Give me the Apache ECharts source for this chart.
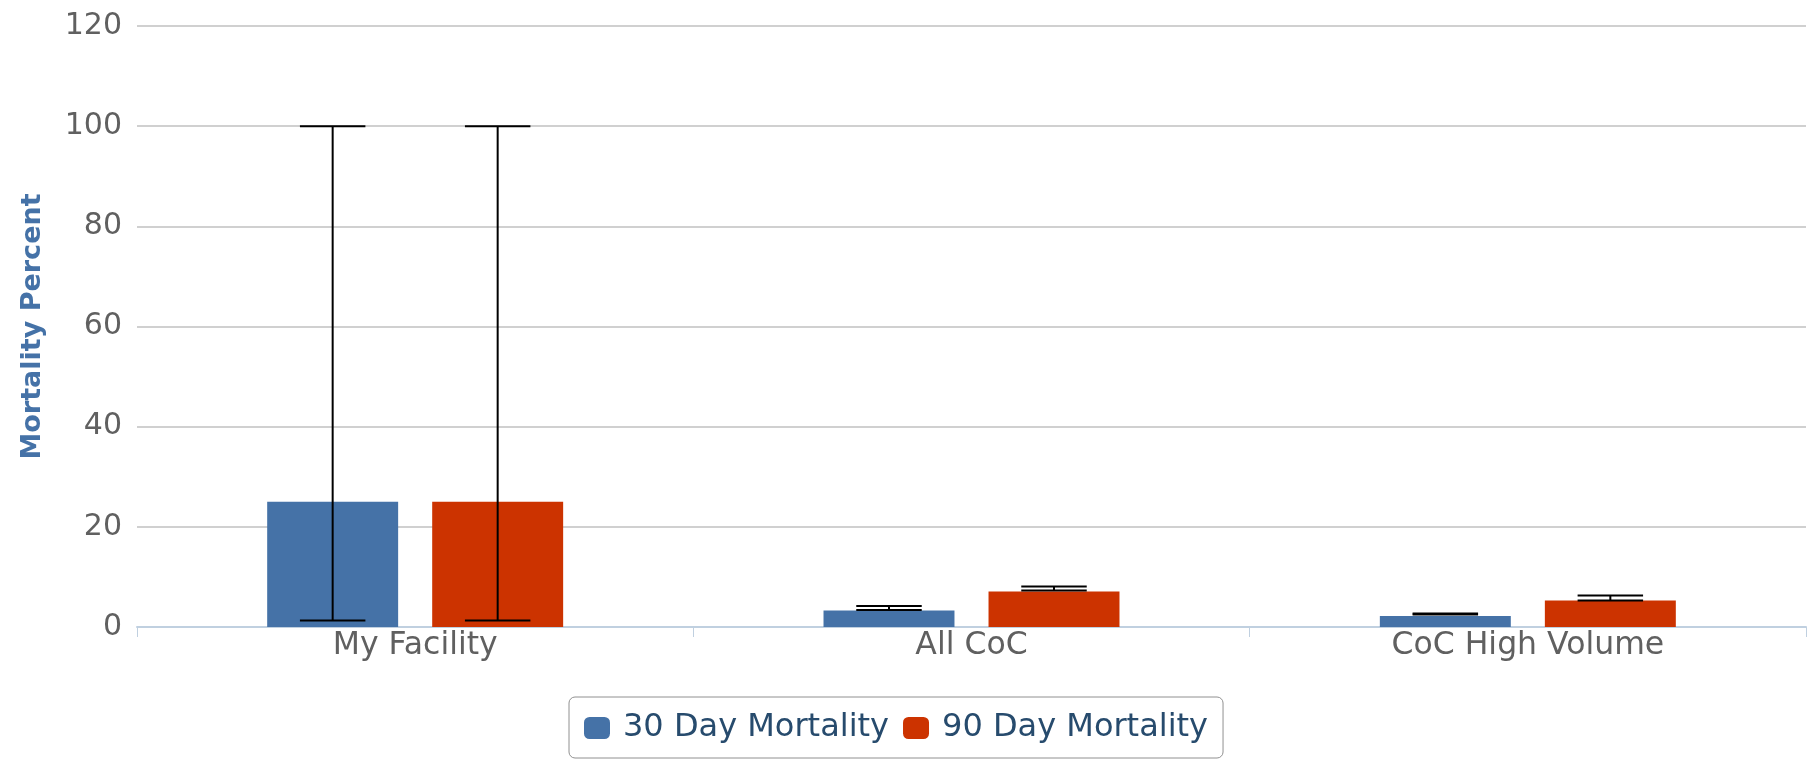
<!doctype html>
<html>
  <head>
    <meta charset="utf-8">
    <title>Mortality</title>
    <script src="https://cdn.jsdelivr.net/npm/echarts@6/dist/echarts.min.js"></script>
    <style>
      html, body { margin: 0; padding: 0; background: #fff; }
      #main { width: 1815px; height: 759px; }
    </style>
  </head>
  <body>
    <div id="main"></div>
  </body>
  <script>
   var categories = ['My Facility', 'All CoC', 'CoC High Volume'];
   var seriesNames = ['30 Day Mortality', '90 Day Mortality'];
   var mort30 = [25, 3.3, 2.2];
   var mort90 = [25, 7.1, 5.3];
   // error bar ranges (low, high)
   var mort30Low = [1.3, 3.4, 2.5];
   var mort30High = [100, 4.2, 2.7];
   var mort90Low = [1.3, 7.3, 5.3];
   var mort90High = [100, 8.1, 6.3];
   var yTicks = [0, 20, 40, 60, 80, 100, 120];

   var colors = ['#4572A7', '#CC3300'];
   var CAT_GAP = 0.468;
   var BAR_GAP = 0.26;

   var chart = echarts.init(document.getElementById('main'));

   function errData(low, high) {
     return categories.map(function (c, i) { return [i, low[i], high[i]]; });
   }

   function errorSeries(name, idx, low, high) {
     return {
       name: name + ' error',
       type: 'custom',
       z: 10,
       silent: true,
       data: errData(low, high),
       encode: { x: 0, y: [1, 2] },
       renderItem: function (params, api) {
         var cat = api.value(0);
         var lo = api.coord([cat, api.value(1)]);
         var hi = api.coord([cat, api.value(2)]);
         var band = api.size([1, 0])[0];
         var usable = band * (1 - CAT_GAP);
         var bw = usable / (2 + BAR_GAP);
         var x = lo[0] - usable / 2 + bw / 2 + idx * bw * (1 + BAR_GAP);
         var half = bw / 4;
         var style = { stroke: '#000', lineWidth: 2 };
         return {
           type: 'group',
           children: [
             { type: 'line', shape: { x1: x, y1: hi[1], x2: x, y2: lo[1] }, style: style },
             { type: 'line', shape: { x1: x - half, y1: hi[1], x2: x + half, y2: hi[1] }, style: style },
             { type: 'line', shape: { x1: x - half, y1: lo[1], x2: x + half, y2: lo[1] }, style: style }
           ]
         };
       }
     };
   }

   var option = {
     animation: false,
     color: colors,
     textStyle: { fontFamily: 'DejaVu Sans' },
     grid: { left: 137, right: 9, top: 26, bottom: 132 },
     legend: {
       data: seriesNames,
       bottom: 1,
       left: 569,
       borderColor: '#909090',
       borderWidth: 1,
       borderRadius: 6,
       padding: [15, 15, 14, 15],
       itemGap: 14,
       itemWidth: 26,
       itemHeight: 22,
       icon: 'roundRect',
       textStyle: { color: '#274b6d', fontSize: 32, fontFamily: 'DejaVu Sans', padding: [0, 0, 0, 8] }
     },
     xAxis: {
       type: 'category',
       data: categories,
       axisLine: { lineStyle: { color: '#C0D0E0', width: 2 } },
       axisTick: { show: true, length: 10, lineStyle: { color: '#C0D0E0', width: 1 } },
       axisLabel: { color: '#606060', fontSize: 31.5, margin: 3 }
     },
     yAxis: {
       type: 'value',
       min: yTicks[0],
       max: yTicks[yTicks.length - 1],
       interval: 20,
       name: 'Mortality Percent',
       nameLocation: 'middle',
       nameGap: 91,
       nameTextStyle: { color: '#4572A7', fontSize: 27, fontWeight: 'bold' },
       axisLine: { show: false },
       axisTick: { show: false },
       axisLabel: { color: '#606060', fontSize: 30, margin: 15 },
       splitLine: { lineStyle: { color: '#C0C0C0', width: 1.5 } }
     },
     series: [
       {
         name: seriesNames[0],
         type: 'bar',
         data: mort30,
         barGap: (BAR_GAP * 100) + '%',
         barCategoryGap: (CAT_GAP * 100) + '%',
         itemStyle: { color: colors[0] }
       },
       {
         name: seriesNames[1],
         type: 'bar',
         data: mort90,
         itemStyle: { color: colors[1] }
       },
       errorSeries(seriesNames[0], 0, mort30Low, mort30High),
       errorSeries(seriesNames[1], 1, mort90Low, mort90High)
     ]
   };

   chart.setOption(option);
  </script>
</html>
